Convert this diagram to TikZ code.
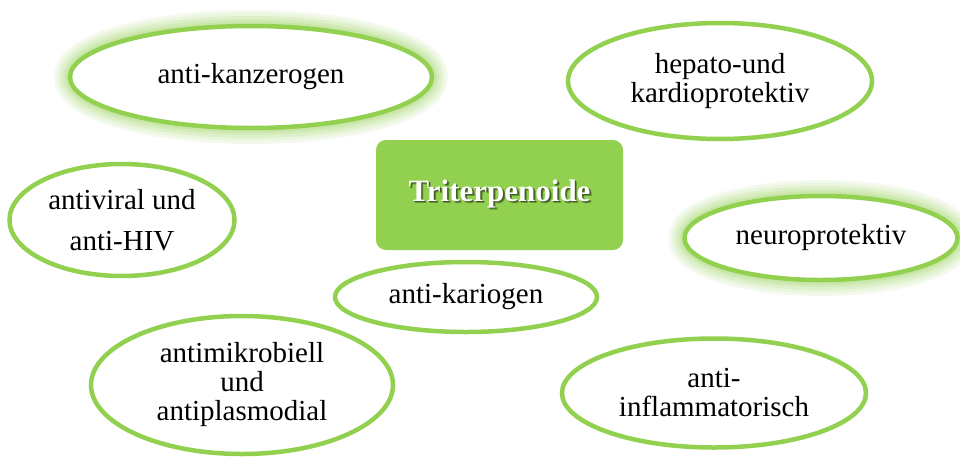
\documentclass[tikz,border=0pt]{standalone}
\usepackage{fontspec}
\setmainfont{Liberation Serif}
\usetikzlibrary{shapes.geometric}
\definecolor{lgreen}{HTML}{92D050}
\colorlet{shadowc}{lgreen!45!black}
\colorlet{shadowd}{lgreen!70!black}
\begin{document}
\begin{tikzpicture}[x=1pt,y=-1pt,
  oval/.style={ellipse, draw=lgreen, line width=4.5pt, fill=white, inner sep=0pt,
    align=center, font=\fontsize{29}{29}\selectfont},
  glow/.style={
    preaction={draw=lgreen, draw opacity=0.10, line width=32pt},
    preaction={draw=lgreen, draw opacity=0.10, line width=26pt},
    preaction={draw=lgreen, draw opacity=0.12, line width=20pt},
    preaction={draw=lgreen, draw opacity=0.14, line width=14pt},
    preaction={draw=lgreen, draw opacity=0.16, line width=9pt}},
  centerbox/.style={rectangle, rounded corners=10pt, fill=lgreen, inner sep=0pt,
    minimum width=247pt, minimum height=110pt,
    font=\fontsize{31}{31}\selectfont\bfseries}
]
\useasboundingbox (0,0) rectangle (960,458);
\fill[white] (0,0) rectangle (960,458);

\node[oval, glow, minimum width=362pt, minimum height=102pt] (kanz) at (251,77) {anti-kanzerogen};
\node[oval, minimum width=304pt, minimum height=116pt] (hepato) at (720,81) {hepato-und\\kardioprotektiv};
\node[oval, minimum width=225pt, minimum height=112pt] (viral) at (122,220) {antiviral und\\[12pt]anti-HIV};
\node[oval, glow, minimum width=273pt, minimum height=84pt] (neuro) at (821,238) {neuroprotektiv};
\node[oval, minimum width=262pt, minimum height=70pt] (kario) at (466,297) {anti-kariogen};
\node[oval, minimum width=302pt, minimum height=138pt] (mikro) at (242,385) {antimikrobiell\\und\\antiplasmodial};
\node[oval, minimum width=304pt, minimum height=109pt] (inflam) at (714,393) {anti-\\inflammatorisch};

\node[centerbox] (tri) at (499.5,195) {%
  \makebox[0pt][l]{\hspace{2.2pt}\raisebox{-2.2pt}{\color{shadowd}Triterpenoide}}%
  \makebox[0pt][l]{\hspace{1.4pt}\raisebox{-1.4pt}{\color{shadowc}Triterpenoide}}%
  \textcolor{white}{Triterpenoide}};
\end{tikzpicture}
\end{document}
